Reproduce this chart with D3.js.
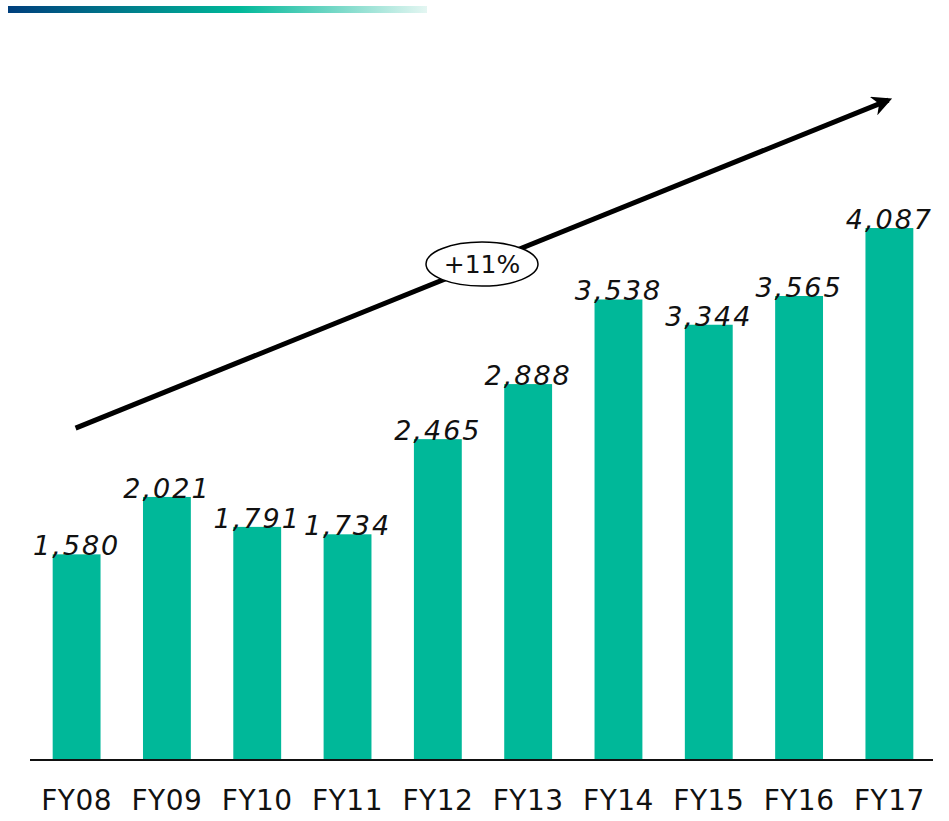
<!DOCTYPE html>
<html>
<head>
<meta charset="utf-8">
<script src="https://cdn.jsdelivr.net/npm/d3@7"></script>
<style>
  body { margin: 0; background: #fff; }
  svg { display: block; }
</style>
</head>
<body>
<svg id="mychart" width="949" height="821"></svg>
<script>
const width = 949
const height = 821
const margin = ({top: 110, right: 16, bottom: 61, left: 30})

const years = ["FY08", "FY09", "FY10", "FY11", "FY12", "FY13", "FY14", "FY15", "FY16", "FY17"]
const values = [1580, 2021, 1791, 1734, 2465, 2888, 3538, 3344, 3565, 4087]
const valueLabels = ["1,580", "2,021", "1,791", "1,734", "2,465", "2,888", "3,538", "3,344", "3,565", "4,087"]
const cagrLabel = "+11%"
// trend arrow runs from first to last category, values in chart units
const trendFrom = 2550
const trendTo = 5070

const data = years.map((name, i) => ({name, value: values[i], label: valueLabels[i]}))

const x = d3.scaleBand()
    .domain(years)
    .range([margin.left + 1, width - margin.right + 2])
    .paddingInner(0.47)
    .paddingOuter(0.24)

const y = d3.scaleLinear()
    .domain([0, 5000])
    .range([height - margin.bottom, height - margin.bottom - 650.8])

const svg = d3.select('#mychart')

// gradient strip at the top
const defs = svg.append("defs")
const grad = defs.append("linearGradient").attr("id", "topbar")
grad.append("stop").attr("offset", "0%").attr("stop-color", "#003f7d")
grad.append("stop").attr("offset", "55%").attr("stop-color", "#00b899")
grad.append("stop").attr("offset", "100%").attr("stop-color", "#e4f6f2")
svg.append("rect")
    .attr("x", 8).attr("y", 6)
    .attr("width", 419).attr("height", 7)
    .attr("fill", "url(#topbar)")

defs.append("marker")
    .attr("id", "arrowhead")
    .attr("viewBox", "0 0 10 10")
    .attr("refX", 8).attr("refY", 5)
    .attr("markerWidth", 4).attr("markerHeight", 4)
    .attr("markerUnits", "strokeWidth")
    .attr("orient", "auto")
    .append("path")
    .attr("d", "M0,0 L10,5 L0,10 L3,5 Z")
    .attr("fill", "#000")

// bars
svg.append("g")
    .attr("fill", "#00b899")
    .selectAll("rect")
    .data(data)
    .join("rect")
    .attr("x", d => x(d.name))
    .attr("y", d => y(d.value))
    .attr("width", x.bandwidth())
    .attr("height", d => y(0) - y(d.value))

// value labels
svg.append("g")
    .attr("font-family", "DejaVu Sans")
    .attr("font-style", "italic")
    .attr("font-size", 27)
    .attr("letter-spacing", 2)
    .attr("fill", "#111")
    .attr("text-anchor", "middle")
    .selectAll("text")
    .data(data)
    .join("text")
    .attr("x", d => x(d.name) + x.bandwidth() / 2)
    .attr("y", d => y(d.value) + 1)
    .text(d => d.label)

// x axis
const xAxis = g => g
    .attr("transform", `translate(0,${height - margin.bottom})`)
    .call(d3.axisBottom(x).tickSize(0).tickSizeOuter(0).tickPadding(30))
    .call(g => g.select(".domain").attr("stroke", "#111").attr("stroke-width", 2)
        .attr("d", `M${margin.left},0H${width - margin.right}`))
    .call(g => g.selectAll("text")
        .attr("font-family", "DejaVu Sans")
        .attr("font-size", 28)
        .attr("letter-spacing", 0.5)
        .attr("fill", "#111"))

svg.append("g").call(xAxis)

// trend arrow
const x0 = x(years[0]) + x.bandwidth() / 2 - 1
const x1 = x(years[years.length - 1]) + x.bandwidth() / 2 - 1
svg.append("line")
    .attr("x1", x0).attr("y1", y(trendFrom))
    .attr("x2", x1).attr("y2", y(trendTo))
    .attr("stroke", "#000")
    .attr("stroke-width", 5)
    .attr("marker-end", "url(#arrowhead)")

const ex = (x0 + x1) / 2 + 0
const ey = (y(trendFrom) + y(trendTo)) / 2
svg.append("ellipse")
    .attr("cx", ex).attr("cy", ey)
    .attr("rx", 56).attr("ry", 22)
    .attr("fill", "#fff")
    .attr("stroke", "#000")
    .attr("stroke-width", 1.5)
svg.append("text")
    .attr("x", ex).attr("y", ey + 9)
    .attr("text-anchor", "middle")
    .attr("font-family", "DejaVu Sans")
    .attr("font-size", 25)
    .attr("fill", "#111")
    .text(cagrLabel)
</script>
</body>
</html>
